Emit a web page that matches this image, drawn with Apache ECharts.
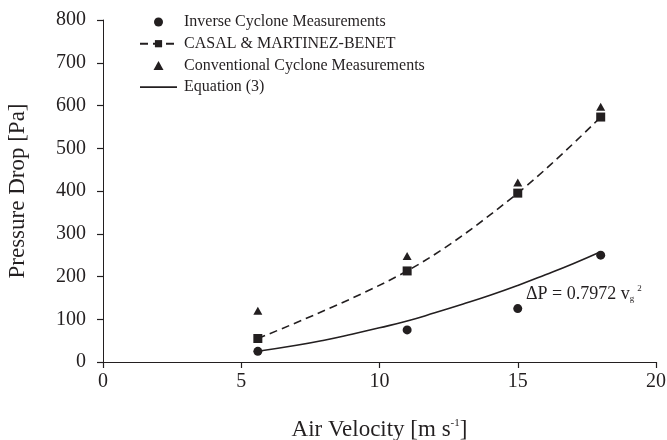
<!DOCTYPE html>
<html>
<head>
<meta charset="utf-8">
<script src="https://cdn.jsdelivr.net/npm/echarts@6/dist/echarts.min.js"></script>
<style>
html,body{margin:0;padding:0;background:#fff;}
#c{width:667px;height:440px;}
</style>
</head>
<body>
<div id="c"></div>
<script>
// Data
var inverseX = [5.6, 11, 15, 18];
var inverseY = [25, 75, 125, 250];
var casalX = [5.6, 11, 15, 18];
var casalY = [55, 213, 395, 573];
var conventionalX = [5.6, 11, 15, 18];
var conventionalY = [120, 248, 420, 597];
var equationX = [5.6, 7, 8, 9, 10, 11, 12, 13, 14, 15, 16, 17, 18];
var equationY = [25, 39, 51, 65, 80, 96, 115, 135, 156, 179, 204, 230, 258];
var xTicks = [0, 5, 10, 15, 20];
var yTicks = [0, 100, 200, 300, 400, 500, 600, 700, 800];
var seriesNames = ['Inverse Cyclone Measurements', 'CASAL & MARTINEZ-BENET', 'Conventional Cyclone Measurements', 'Equation (3)'];

function pairs(xs, ys) { return xs.map(function (x, i) { return [x, ys[i]]; }); }

var FONT = '"Liberation Serif", "Times New Roman", serif';
var INK = '#231f20';

var chart = echarts.init(document.getElementById('c'), null, {renderer: 'canvas'});
chart.setOption({
  animation: false,
  backgroundColor: '#fff',
  textStyle: {fontFamily: FONT, color: INK},
  grid: {left: 103, right: 11, top: 20, bottom: 78, containLabel: false, outerBoundsMode: 'none'},
  legend: {
    orient: 'vertical',
    left: 134, top: 9,
    itemWidth: 37, itemHeight: 9, itemGap: 5.7,
    symbolKeepAspect: true,
    textStyle: {fontFamily: FONT, fontSize: 16, color: INK, padding: [0, 0, 0, 2]},
    data: [
      {name: seriesNames[0]},
      {name: seriesNames[1]},
      {name: seriesNames[2], icon: 'path://M5,0 L10,9 L0,9 Z'},
      {name: seriesNames[3], icon: 'path://M0,0 H37 V1.6 H0 Z'}
    ]
  },
  xAxis: {
    type: 'value', min: xTicks[0], max: xTicks[xTicks.length - 1], interval: 5,
    splitLine: {show: false},
    axisLine: {show: true, onZero: false, lineStyle: {color: INK, width: 1}},
    axisTick: {show: true, inside: false, length: 6, lineStyle: {color: INK, width: 1.2, opacity: 1}},
    axisLabel: {fontFamily: FONT, fontSize: 20, color: INK, margin: 10},
    name: 'Air Velocity [m s{sup|-1}]', nameLocation: 'middle', nameGap: 56,
    nameTextStyle: {fontFamily: FONT, fontSize: 23, color: INK,
      rich: {sup: {fontFamily: FONT, fontSize: 11, color: INK, verticalAlign: 'top', padding: [0, 0, 12, 0]}}}
  },
  yAxis: {
    type: 'value', min: yTicks[0], max: yTicks[yTicks.length - 1], interval: 100,
    splitLine: {show: false},
    axisLine: {show: true, onZero: false, lineStyle: {color: INK, width: 1}},
    axisTick: {show: true, inside: false, length: 6, lineStyle: {color: INK, width: 1.2, opacity: 1}},
    axisLabel: {fontFamily: FONT, fontSize: 20, color: INK, margin: 17},
    name: 'Pressure Drop [Pa]', nameLocation: 'middle', nameGap: 74,
    nameTextStyle: {fontFamily: FONT, fontSize: 23, color: INK}
  },
  series: [
    {
      name: seriesNames[0], type: 'scatter', data: pairs(inverseX, inverseY),
      symbol: 'circle', symbolSize: 9, itemStyle: {color: INK, opacity: 1}, z: 5
    },
    {
      name: seriesNames[1], type: 'line', data: pairs(casalX, casalY), smooth: 0.35,
      symbol: 'rect', symbolSize: 9, showSymbol: true,
      itemStyle: {color: INK, opacity: 1}, lineStyle: {color: INK, width: 1.6, type: [8, 5]}, z: 4
    },
    {
      name: seriesNames[2], type: 'scatter', data: pairs(conventionalX, conventionalY),
      symbol: 'triangle', symbolSize: [9, 8], itemStyle: {color: INK, opacity: 1}, z: 5
    },
    {
      name: seriesNames[3], type: 'line', data: pairs(equationX, equationY), smooth: true,
      symbol: 'none', showSymbol: false,
      itemStyle: {color: INK, opacity: 1}, lineStyle: {color: INK, width: 1.6}, z: 3
    }
  ],
  graphic: [{
    type: 'text', left: 526, top: 284,
    style: {
      text: 'ΔP = 0.7972 v{sub|g}{sup|2}',
      font: '18px ' + FONT, fill: INK,
      rich: {
        sub: {fontFamily: FONT, fontSize: 9, fill: INK, padding: [9, 0, 0, 0]},
        sup: {fontFamily: FONT, fontSize: 9, fill: INK, padding: [0, 0, 11, 3]}
      }
    }
  }]
});
</script>
</body>
</html>
